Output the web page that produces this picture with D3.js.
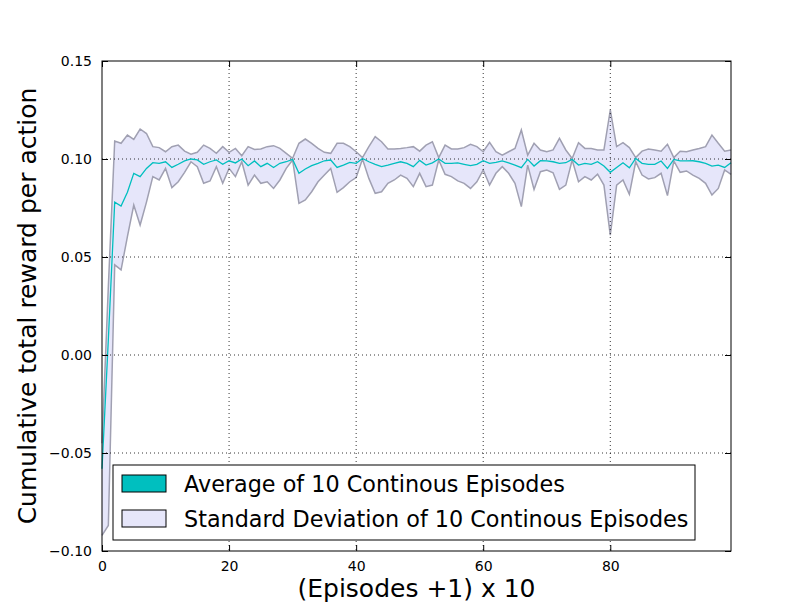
<!DOCTYPE html>
<html>
<head>
<meta charset="utf-8">
<script src="https://cdn.jsdelivr.net/npm/d3@7"></script>
<style>
  body { margin: 0; background: #fff; }
  text { font-family: "DejaVu Sans", sans-serif; }
</style>
</head>
<body>
<div id="chart"></div>
<script>
// values, one per episode bucket (0..99)
const meanReward = [
  -0.058, 0.008, 0.078, 0.076, 0.083, 0.0927, 0.091, 0.0952, 0.0981, 0.0978,
  0.0986, 0.0957, 0.0973, 0.099, 0.1, 0.0995, 0.0973, 0.0986, 0.0995, 0.0973,
  0.0991, 0.098, 0.1, 0.0966, 0.099, 0.0961, 0.0978, 0.0957, 0.0978, 0.0986,
  0.0998, 0.0927, 0.0949, 0.0966, 0.0978, 0.0991, 0.0995, 0.0957, 0.0969, 0.0983,
  0.0978, 0.1003, 0.0986, 0.0973, 0.0961, 0.0969, 0.0978, 0.0986, 0.0978, 0.0961,
  0.0993, 0.0969, 0.098, 0.1, 0.0978, 0.0978, 0.098, 0.0973, 0.0966, 0.0973,
  0.0991, 0.0978, 0.0983, 0.099, 0.098, 0.0969, 0.0956, 0.0998, 0.0964, 0.0991,
  0.099, 0.0986, 0.0978, 0.0981, 0.0998, 0.0969, 0.0978, 0.0973, 0.0986, 0.0964,
  0.0932, 0.0957, 0.0981, 0.0955, 0.1003, 0.0978, 0.0973, 0.0973, 0.099, 0.0952,
  0.0998, 0.099, 0.099, 0.0991, 0.0986, 0.0978, 0.0964, 0.0969, 0.0957, 0.0981
];
const upperReward = [
  -0.045, 0.035, 0.1092, 0.108, 0.1122, 0.110, 0.1153, 0.113, 0.1063, 0.1058,
  0.1037, 0.1063, 0.1071, 0.104, 0.1024, 0.1034, 0.1071, 0.1054, 0.1029, 0.1063,
  0.1034, 0.1054, 0.1017, 0.1063, 0.1049, 0.1051, 0.1063, 0.1068, 0.1054, 0.1029,
  0.1003, 0.108, 0.1102, 0.108, 0.1054, 0.1034, 0.1029, 0.108, 0.108, 0.1063,
  0.1037, 0.1007, 0.1063, 0.1114, 0.1088, 0.1051, 0.1051, 0.1054, 0.1058, 0.1063,
  0.104, 0.1071, 0.1088, 0.1007, 0.1071, 0.1051, 0.1051, 0.1058, 0.1075, 0.1063,
  0.1037, 0.1085, 0.1037, 0.102, 0.1037, 0.1054, 0.1148, 0.102, 0.108, 0.1046,
  0.1037, 0.1046, 0.1105, 0.1046, 0.1003, 0.1083, 0.1054, 0.1054, 0.1046, 0.1046,
  0.125, 0.1063, 0.1083, 0.1058, 0.1007, 0.104, 0.1051, 0.1046, 0.104, 0.1075,
  0.1007, 0.104, 0.1037, 0.1046, 0.1054, 0.1063, 0.1122, 0.108, 0.104, 0.1046
];
const lowerReward = [
  -0.092, -0.087, 0.046, 0.0434, 0.0604, 0.0765, 0.0663, 0.078, 0.091, 0.0893,
  0.0952, 0.0854, 0.0884, 0.0932, 0.0986, 0.0961, 0.0876, 0.0888, 0.0961, 0.0876,
  0.0952, 0.091, 0.0986, 0.0867, 0.0918, 0.0876, 0.0884, 0.085, 0.0893, 0.0952,
  0.0995, 0.0774, 0.0791, 0.0833, 0.0884, 0.0918, 0.0952, 0.083, 0.0854, 0.0884,
  0.0905, 0.1, 0.0901, 0.0825, 0.0833, 0.0876, 0.0893, 0.0918, 0.0901, 0.0859,
  0.0927, 0.0859, 0.0867, 0.0995, 0.0922, 0.091, 0.0888, 0.0876, 0.085, 0.0884,
  0.0944, 0.0867, 0.0927, 0.0961, 0.0927, 0.0876, 0.0757, 0.0969, 0.0845, 0.0935,
  0.0944, 0.093, 0.0845, 0.0867, 0.0995, 0.0884, 0.091, 0.0893, 0.0923, 0.0867,
  0.0612, 0.0867, 0.0893, 0.082, 0.0986, 0.0918, 0.0898, 0.0905, 0.0927, 0.0813,
  0.099, 0.0932, 0.0939, 0.0918, 0.0901, 0.0876, 0.0816, 0.085, 0.0944, 0.0922
];
const xTicks = [0, 20, 40, 60, 80];
const yTicks = [-0.10, -0.05, 0.00, 0.05, 0.10, 0.15];
const legendLabels = ["Average of 10 Continous Episodes", "Standard Deviation of 10 Continous Episodes"];

var width = 812, height = 612;
var margin = {top: 61, right: 81, bottom: 61, left: 102};
var innerW = width - margin.left - margin.right,
    innerH = height - margin.top - margin.bottom;

const svg = d3.select("#chart").append("svg")
    .attr("width", width)
    .attr("height", height);
svg.append("rect").attr("width", width).attr("height", height).attr("fill", "#fff");

const g = svg.append("g")
    .attr("transform", `translate(${margin.left},${margin.top})`);

const x = d3.scaleLinear().domain([0, meanReward.length - 1]).range([0, innerW]);
const y = d3.scaleLinear().domain([-0.10, 0.15]).range([innerH, 0]);

const rows = meanReward.map((m, i) => ({i: i, m: m, lo: lowerReward[i], hi: upperReward[i]}));

// std band
const area = d3.area()
  .x(d => x(d.i))
  .y0(d => y(d.lo))
  .y1(d => y(d.hi));
g.append("path")
  .datum(rows)
  .attr("d", area)
  .attr("fill", "#e6e6fa")
  .attr("stroke", "none");

// band edges (grey outline like matplotlib fill_between)
["lo", "hi"].forEach(k => {
  g.append("path")
    .datum(rows)
    .attr("d", d3.line().x(d => x(d.i)).y(d => y(d[k])))
    .attr("fill", "none")
    .attr("stroke", "#a0a0b2")
    .attr("stroke-width", 1.5);
});

// grid, drawn over the band
g.append("g").selectAll("line").data(xTicks.filter(t => t > 0)).join("line")
  .attr("x1", d => x(d)).attr("x2", d => x(d))
  .attr("y1", 0).attr("y2", innerH)
  .attr("stroke", "#000").attr("stroke-width", 0.8)
  .attr("stroke-dasharray", "1,3");
g.append("g").selectAll("line").data(yTicks.slice(1, -1)).join("line")
  .attr("x1", 0).attr("x2", innerW)
  .attr("y1", d => y(d)).attr("y2", d => y(d))
  .attr("stroke", "#000").attr("stroke-width", 0.8)
  .attr("stroke-dasharray", "1,3");

// mean line
g.append("path")
  .datum(rows)
  .attr("d", d3.line().x(d => x(d.i)).y(d => y(d.m)))
  .attr("fill", "none")
  .attr("stroke", "#00bfbf")
  .attr("stroke-width", 1.3);

// axes with inward ticks on all four sides
const fmtY = d => d3.format(".2f")(d).replace("-", "\u2212");
const xAxisB = d3.axisBottom(x).tickValues(xTicks).tickSizeInner(-6).tickSizeOuter(0).tickPadding(10);
const xAxisT = d3.axisTop(x).tickValues(xTicks).tickSizeInner(-6).tickSizeOuter(0).tickFormat("");
const yAxisL = d3.axisLeft(y).tickValues(yTicks).tickSizeInner(-6).tickSizeOuter(0).tickPadding(10).tickFormat(fmtY);
const yAxisR = d3.axisRight(y).tickValues(yTicks).tickSizeInner(-6).tickSizeOuter(0).tickFormat("");

g.append("g").attr("transform", `translate(0,${innerH})`).call(xAxisB);
g.append("g").call(xAxisT);
g.append("g").call(yAxisL);
g.append("g").attr("transform", `translate(${innerW},0)`).call(yAxisR);

g.selectAll(".domain").remove();
g.selectAll(".tick line").attr("stroke", "#000").attr("stroke-width", 1);
g.selectAll(".tick text")
  .attr("fill", "#000")
  .style("font-size", "14px")
  .style("font-family", "DejaVu Sans");

// frame
g.append("rect")
  .attr("width", innerW).attr("height", innerH)
  .attr("fill", "none").attr("stroke", "#000").attr("stroke-width", 1);

// axis labels
svg.append("text")
  .attr("x", margin.left + innerW / 2)
  .attr("y", 597)
  .attr("text-anchor", "middle")
  .style("font-size", "25px")
  .text("(Episodes +1) x 10");
svg.append("text")
  .attr("transform", `translate(36,${margin.top + innerH / 2}) rotate(-90)`)
  .attr("text-anchor", "middle")
  .style("font-size", "25px")
  .text("Cumulative total reward per action");

// legend
const legend = svg.append("g").attr("transform", "translate(113,465)");
legend.append("rect")
  .attr("width", 582).attr("height", 75)
  .attr("fill", "#fff").attr("stroke", "#000").attr("stroke-width", 1);
const legendColors = ["#00bfbf", "#e6e6fa"];
legendLabels.forEach((lab, i) => {
  legend.append("rect")
    .attr("x", 9).attr("y", 10 + i * 35)
    .attr("width", 44).attr("height", 17)
    .attr("fill", legendColors[i]).attr("stroke", "#000").attr("stroke-width", 1);
  legend.append("text")
    .attr("x", 71).attr("y", 27 + i * 35)
    .style("font-size", "22.3px")
    .text(lab);
});
</script>
</body>
</html>
